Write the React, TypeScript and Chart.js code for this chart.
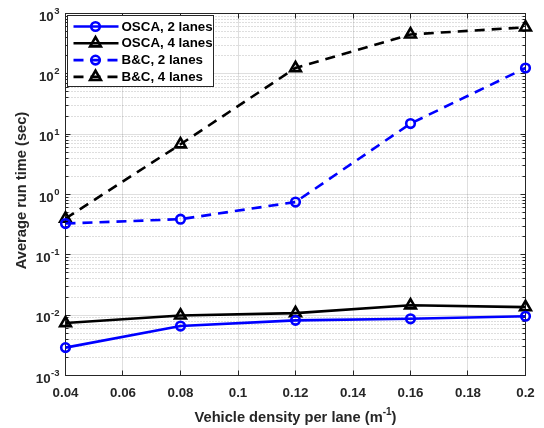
import { useEffect, useRef } from "react";
import { Chart, registerables } from "chart.js";

Chart.register(...registerables);

// ---- data ----
const densities = [0.04, 0.08, 0.12, 0.16, 0.2];
const oscaTwoLanes = [0.0029, 0.0066, 0.0082, 0.0087, 0.0096];
const oscaFourLanes = [0.0074, 0.0099, 0.0108, 0.0146, 0.0136];
const bcTwoLanes = [0.33, 0.39, 0.75, 15, 125];
const bcFourLanes = [0.4, 6.8, 125, 450, 590];

const seriesLabels = ["OSCA, 2 lanes", "OSCA, 4 lanes", "B&C, 2 lanes", "B&C, 4 lanes"];
const xTickValues = [0.04, 0.06, 0.08, 0.1, 0.12, 0.14, 0.16, 0.18, 0.2];
const xTickLabels = ["0.04", "0.06", "0.08", "0.1", "0.12", "0.14", "0.16", "0.18", "0.2"];
const yDecadeExponents = [-3, -2, -1, 0, 1, 2, 3];
const xTitle = "Vehicle density per lane (m";
const xTitleSup = "-1";
const yTitle = "Average run time (sec)";

const AXIS = "#262626";
const FONT = '"Liberation Sans", Arial, Helvetica, sans-serif';
const DASH = [10, 7];
const LW = 2.6;

type Series = { label: string; values: number[]; color: string; dashed: boolean; marker: "circle" | "triangle" };
const series: Series[] = [
  { label: seriesLabels[0], values: oscaTwoLanes, color: "#0000ff", dashed: false, marker: "circle" },
  { label: seriesLabels[1], values: oscaFourLanes, color: "#000000", dashed: false, marker: "triangle" },
  { label: seriesLabels[2], values: bcTwoLanes, color: "#0000ff", dashed: true, marker: "circle" },
  { label: seriesLabels[3], values: bcFourLanes, color: "#000000", dashed: true, marker: "triangle" },
];

const CIRCLE_R = 4.3;
const TRI_R = 6.2;

function drawMarker(ctx: CanvasRenderingContext2D, kind: string, x: number, y: number, color: string) {
  ctx.save();
  ctx.setLineDash([]);
  ctx.strokeStyle = color;
  ctx.lineWidth = LW;
  ctx.lineJoin = "miter";
  ctx.beginPath();
  if (kind === "circle") {
    ctx.arc(x, y, CIRCLE_R, 0, Math.PI * 2);
  } else {
    const r = TRI_R;
    ctx.moveTo(x, y - r);
    ctx.lineTo(x + Math.sin((2 * Math.PI) / 3) * r, y + 0.5 * r);
    ctx.lineTo(x - Math.sin((2 * Math.PI) / 3) * r, y + 0.5 * r);
    ctx.closePath();
  }
  ctx.stroke();
  ctx.restore();
}

const matlabPlugin = {
  id: "matlabStyle",
  beforeDatasetsDraw(chart: any) {
    const { ctx, chartArea: a, scales } = chart;
    const x = scales.x;
    const y = scales.y;
    const snap = (v: number) => Math.round(v - 0.5) + 0.5;
    ctx.save();
    ctx.lineWidth = 1;
    // minor grid (dotted)
    ctx.strokeStyle = "rgba(38,38,38,0.3)";
    ctx.setLineDash([1, 2]);
    for (let n = -3; n < 3; n++) {
      for (let m = 2; m <= 9; m++) {
        const py = snap(y.getPixelForValue(m * Math.pow(10, n)));
        ctx.beginPath();
        ctx.moveTo(a.left, py);
        ctx.lineTo(a.right, py);
        ctx.stroke();
      }
    }
    // major grid
    ctx.setLineDash([]);
    ctx.strokeStyle = "rgba(38,38,38,0.15)";
    yDecadeExponents.slice(1, -1).forEach((e) => {
      const py = snap(y.getPixelForValue(Math.pow(10, e)));
      ctx.beginPath();
      ctx.moveTo(a.left, py);
      ctx.lineTo(a.right, py);
      ctx.stroke();
    });
    xTickValues.slice(1, -1).forEach((v) => {
      const px = snap(x.getPixelForValue(v));
      ctx.beginPath();
      ctx.moveTo(px, a.top);
      ctx.lineTo(px, a.bottom);
      ctx.stroke();
    });
    // axis box
    ctx.strokeStyle = AXIS;
    ctx.strokeRect(a.left, a.top, a.right - a.left, a.bottom - a.top);
    // ticks
    ctx.beginPath();
    xTickValues.forEach((v) => {
      const px = snap(x.getPixelForValue(v));
      ctx.moveTo(px, a.bottom);
      ctx.lineTo(px, a.bottom - 5);
      ctx.moveTo(px, a.top);
      ctx.lineTo(px, a.top + 5);
    });
    yDecadeExponents.forEach((e) => {
      const py = snap(y.getPixelForValue(Math.pow(10, e)));
      ctx.moveTo(a.left, py);
      ctx.lineTo(a.left + 5, py);
      ctx.moveTo(a.right, py);
      ctx.lineTo(a.right - 5, py);
    });
    for (let n = -3; n < 3; n++) {
      for (let m = 2; m <= 9; m++) {
        const py = snap(y.getPixelForValue(m * Math.pow(10, n)));
        ctx.moveTo(a.left, py);
        ctx.lineTo(a.left + 3, py);
        ctx.moveTo(a.right, py);
        ctx.lineTo(a.right - 3, py);
      }
    }
    ctx.stroke();
    ctx.restore();
  },
  afterDraw(chart: any) {
    const { ctx, chartArea: a, scales } = chart;
    const x = scales.x;
    const y = scales.y;
    ctx.save();
    ctx.fillStyle = AXIS;
    // x tick labels
    ctx.font = `bold 13.33px ${FONT}`;
    ctx.textAlign = "center";
    ctx.textBaseline = "alphabetic";
    xTickValues.forEach((v, i) => {
      ctx.fillText(xTickLabels[i], x.getPixelForValue(v), a.bottom + 21);
    });
    // y tick labels 10^n
    ctx.textAlign = "left";
    yDecadeExponents.forEach((e) => {
      const ty = y.getPixelForValue(Math.pow(10, e));
      const sup = String(e);
      ctx.font = `bold 9.5px ${FONT}`;
      const ws = ctx.measureText(sup).width;
      ctx.font = `bold 13.33px ${FONT}`;
      const wb = ctx.measureText("10").width;
      const right = a.left - 6.5;
      const start = right - ws - wb;
      ctx.fillText("10", start, ty + 7);
      ctx.font = `bold 9.5px ${FONT}`;
      ctx.fillText(sup, start + wb + 0.5, ty + 0.5);
    });
    // x title
    ctx.font = `bold 14.67px ${FONT}`;
    const wMain = ctx.measureText(xTitle).width;
    const wParen = ctx.measureText(")").width;
    ctx.font = `bold 10px ${FONT}`;
    const wSup = ctx.measureText(xTitleSup).width;
    const cx = (a.left + a.right) / 2;
    let tx = cx - (wMain + wSup + wParen) / 2;
    const baseY = 421.5;
    ctx.font = `bold 14.67px ${FONT}`;
    ctx.fillText(xTitle, tx, baseY);
    tx += wMain;
    ctx.font = `bold 10px ${FONT}`;
    ctx.fillText(xTitleSup, tx, baseY - 6.5);
    tx += wSup;
    ctx.font = `bold 14.67px ${FONT}`;
    ctx.fillText(")", tx, baseY);
    // y title
    ctx.save();
    ctx.translate(21.5, (a.top + a.bottom) / 2 - 4);
    ctx.rotate(-Math.PI / 2);
    ctx.textAlign = "center";
    ctx.textBaseline = "middle";
    ctx.font = `bold 14.67px ${FONT}`;
    ctx.fillText(yTitle, 0, 0);
    ctx.restore();

    // legend
    const lx = a.left + 2;
    const ly = a.top + 2;
    const lw = 146;
    const lh = 71;
    ctx.fillStyle = "#ffffff";
    ctx.fillRect(lx, ly, lw, lh);
    ctx.strokeStyle = AXIS;
    ctx.lineWidth = 1;
    ctx.strokeRect(lx, ly, lw, lh);
    series.forEach((s, i) => {
      const ry = ly + 11 + i * 16.8;
      ctx.save();
      ctx.strokeStyle = s.color;
      ctx.lineWidth = LW;
      ctx.setLineDash(s.dashed ? DASH : []);
      ctx.beginPath();
      ctx.moveTo(lx + 6, ry);
      ctx.lineTo(lx + 51, ry);
      ctx.stroke();
      ctx.restore();
      drawMarker(ctx, s.marker, lx + 28, ry, s.color);
      ctx.fillStyle = "#000000";
      ctx.font = `bold 13.33px ${FONT}`;
      ctx.textAlign = "left";
      ctx.textBaseline = "middle";
      ctx.fillText(s.label, lx + 54, ry + 0.5);
    });
    ctx.restore();
  },
};

export default function App() {
  const canvasRef = useRef<HTMLCanvasElement | null>(null);

  useEffect(() => {
    const canvas = canvasRef.current;
    if (!canvas) return;
    const chart = new Chart(canvas, {
      type: "line",
      data: {
        datasets: series.map((s) => ({
          label: s.label,
          data: densities.map((d, i) => ({ x: d, y: s.values[i] })),
          borderColor: s.color,
          backgroundColor: "rgba(0,0,0,0)",
          borderWidth: LW,
          borderDash: s.dashed ? DASH : [],
          pointStyle: s.marker,
          pointRadius: s.marker === "circle" ? CIRCLE_R : TRI_R,
          pointBorderWidth: LW,
          pointBorderColor: s.color,
          pointBackgroundColor: "rgba(0,0,0,0)",
          tension: 0,
          fill: false,
          clip: false as any,
        })),
      },
      options: {
        animation: false,
        responsive: false,
        devicePixelRatio: 1,
        layout: { padding: { top: 13.5, right: 18.5, bottom: 0, left: 0 } },
        plugins: { legend: { display: false }, tooltip: { enabled: false }, title: { display: false } },
        scales: {
          x: {
            type: "linear",
            min: 0.04,
            max: 0.2,
            grid: { display: false },
            border: { display: false },
            ticks: { display: false },
            afterFit: (scale: any) => {
              scale.height = 52.5;
            },
          },
          y: {
            type: "logarithmic",
            min: 1e-3,
            max: 1e3,
            grid: { display: false },
            border: { display: false },
            ticks: { display: false },
            afterFit: (scale: any) => {
              scale.width = 65.5;
            },
          },
        },
      },
      plugins: [matlabPlugin],
    });
    return () => chart.destroy();
  }, []);

  return (
    <div style={{ position: "absolute", left: 0, top: 0, width: 544, height: 428, background: "#ffffff" }}>
      <canvas ref={canvasRef} width={544} height={428} style={{ display: "block" }} />
    </div>
  );
}
